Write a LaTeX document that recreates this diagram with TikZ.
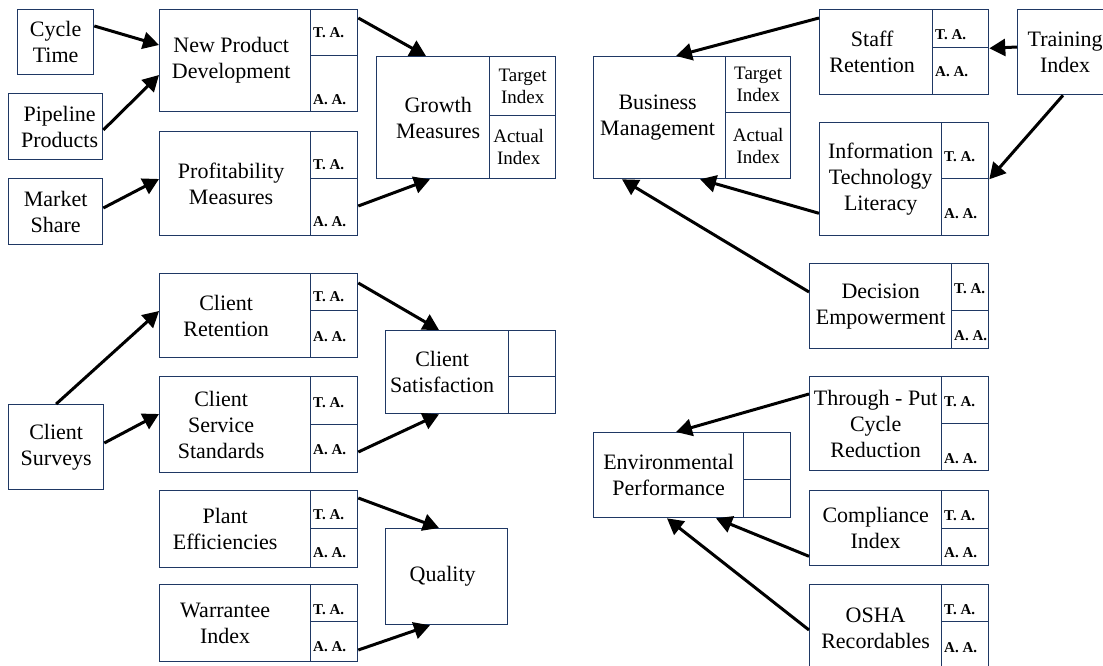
\documentclass[tikz,border=0pt]{standalone}
\usepackage{fontspec}
\setmainfont{Liberation Serif}
\usetikzlibrary{calc,arrows.meta}
\definecolor{bxc}{RGB}{31,56,100}
\tikzset{
  bx/.style={draw=bxc, line width=1.3pt, inner sep=0pt, anchor=north west},
  txt/.style={inner sep=0pt, align=center, font=\fontsize{22}{26}\selectfont},
  cell/.style={draw=bxc, line width=1.3pt, inner sep=0pt, anchor=north west},
  lab/.style={font=\bfseries\fontsize{15}{17}\selectfont, anchor=west, inner sep=0pt},
  idx/.style={font=\fontsize{19}{22}\selectfont, align=center, inner sep=0pt},
  arr/.style={-{Triangle[length=16pt,width=17pt]}, line width=3pt, black},
}
% name x1 y1 xd ys x2 y2 text dx
\newcommand\comp[9]{%
  \node[bx, minimum width={(#4-#2)*1pt}, minimum height={(#7-#3)*1pt}] (#1) at (#2,#3) {};
  \node[txt] (#1-x) at ($(#1.center)+(#9,0)$) {#8};
  \node[cell, minimum width={(#6-#4)*1pt}, minimum height={(#5-#3)*1pt}] (#1-t) at (#4,#3) {};
  \node[cell, minimum width={(#6-#4)*1pt}, minimum height={(#7-#5)*1pt}] (#1-b) at (#4,#5) {};
}
% name dyT dyB
\newcommand\talab[3]{%
  \node[lab] (#1-tl) at ($(#1-t.west)+(3,#2)$) {T. A.};
  \node[lab] (#1-bl) at ($(#1-b.west)+(3,#3)$) {A. A.};
}
% name x1 y1 x2 y2 text dx
\newcommand\plainbox[7]{%
  \node[bx, minimum width={(#4-#2)*1pt}, minimum height={(#5-#3)*1pt}] (#1) at (#2,#3) {};
  \node[txt] (#1-x) at ($(#1.center)+(#7,0)$) {#6};
}
\begin{document}
\begin{tikzpicture}[x=1pt,y=-1pt]
\useasboundingbox (0,0) rectangle (1103,666);
% left column
\plainbox{cyc}{17}{9}{93}{74}{Cycle\\Time}{0}
\plainbox{pip}{8}{93}{102}{159}{Pipeline\\Products}{4}
\plainbox{mkt}{8}{178}{102}{244}{Market\\Share}{0}
\plainbox{cs}{8}{404}{103}{489}{Client\\Surveys}{0}
% growth group
\comp{npd}{159}{9}{310}{55}{357}{111}{New Product\\Development}{-4}
\talab{npd}{0}{16}
\comp{prof}{159}{131}{310}{178}{357}{235}{Profitability\\Measures}{-4}
\talab{prof}{10}{15}
\comp{gm}{376}{56}{489}{115}{555}{178}{Growth\\Measures}{5}
\node[idx] (gm-tl) at (gm-t.center) {Target\\Index};
\node[idx] (gm-bl) at ($(gm-b.center)+(-4,0)$) {Actual\\Index};
% client group
\comp{cr}{159}{273}{310}{310}{357}{357}{Client\\Retention}{-9}
\talab{cr}{5}{3}
\comp{css}{159}{376}{310}{424}{357}{472}{Client\\Service\\Standards}{-14}
\talab{css}{2}{1}
\comp{csat}{385}{330}{508}{376}{555}{413}{Client\\Satisfaction}{-5}
% quality group
\comp{pe}{159}{490}{310}{528}{357}{567}{Plant\\Efficiencies}{-10}
\talab{pe}{5}{5}
\comp{wi}{159}{584}{310}{621}{357}{661}{Warrantee\\Index}{-10}
\talab{wi}{6}{5}
\plainbox{q}{385}{528}{507}{624}{Quality}{-4}
% business group
\comp{bm}{593}{56}{725}{112}{790}{178}{Business\\Management}{-2}
\node[idx] (bm-tl) at (bm-t.center) {Target\\Index};
\node[idx] (bm-bl) at (bm-b.center) {Actual\\Index};
\comp{sr}{819}{9}{932}{47}{988}{94}{Staff\\Retention}{-4}
\talab{sr}{6}{1}
\plainbox{ti}{1017}{9}{1112}{94}{Training\\Index}{0}
\comp{it}{819}{122}{941}{178}{988}{235}{Information\\Technology\\Literacy}{0}
\talab{it}{6}{7}
\comp{de}{809}{263}{951}{310}{988}{348}{Decision\\Empowerment}{0}
\talab{de}{2}{6}
% environmental group
\comp{env}{593}{432}{743}{479}{790}{517}{Environmental\\Performance}{0}
\comp{tp}{809}{376}{941}{423}{988}{470}{Through - Put\\Cycle\\Reduction}{0}
\talab{tp}{2}{12}
\comp{ci}{809}{490}{941}{528}{988}{565}{Compliance\\Index}{0}
\talab{ci}{6}{6}
\comp{os}{809}{584}{941}{621}{988}{672}{OSHA\\Recordables}{0}
\talab{os}{6}{0}
% arrows
\draw[arr] ($(cyc.north east)+(0,17)$) -- ($(npd.north west)+(0,36)$);
\draw[arr] ($(pip.north east)+(0,37)$) -- ($(npd.north west)+(0,66)$);
\draw[arr] ($(mkt.north east)+(0,30)$) -- ($(prof.north west)+(0,48)$);
\draw[arr] ($(npd-t.north east)+(0,9)$) -- ($(gm.north west)+(50,0)$);
\draw[arr] ($(prof-b.north east)+(0,28)$) -- ($(gm.south west)+(54,0)$);
\draw[arr] (cs.north) -- ($(cr.north west)+(0,38)$);
\draw[arr] ($(cs.north east)+(0,39)$) -- ($(css.north west)+(0,38)$);
\draw[arr] ($(cr-t.north east)+(0,10)$) -- ($(csat.north west)+(54,0)$);
\draw[arr] ($(css-b.north east)+(0,28)$) -- ($(csat.south west)+(54,0)$);
\draw[arr] ($(pe-t.north east)+(0,8)$) -- ($(q.north west)+(54,0)$);
\draw[arr] ($(wi-b.north east)+(0,29)$) -- ($(q.south west)+(45,0)$);
\draw[arr] ($(sr.north west)+(0,9)$) -- ($(bm.north west)+(83,0)$);
\draw[arr] ($(ti.north west)+(0,38)$) -- (sr-t.south east);
\draw[arr] ($(ti.south west)+(46,0)$) -- (it-t.south east);
\draw[arr] ($(it.south west)+(0,-23)$) -- ($(bm.south west)+(107,0)$);
\draw[arr] ($(de.north west)+(0,29)$) -- ($(bm.south west)+(29,0)$);
\draw[arr] ($(tp.north west)+(0,18)$) -- ($(env.north west)+(83,0)$);
\draw[arr] ($(ci.south west)+(0,-10)$) -- ($(env.south west)+(123,0)$);
\draw[arr] ($(os.north west)+(0,46)$) -- ($(env.south west)+(74,0)$);
\end{tikzpicture}
\end{document}
